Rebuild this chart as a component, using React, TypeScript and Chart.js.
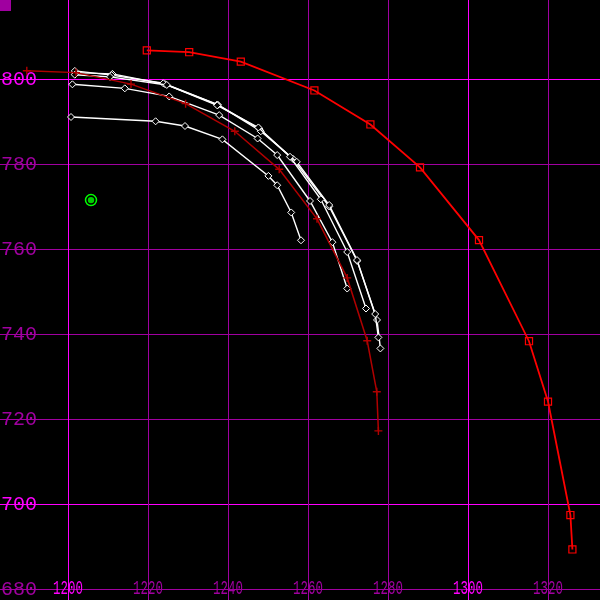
import React, { useEffect, useRef } from "react";
import { Chart, registerables } from "chart.js";

Chart.register(...registerables);

// Axis ticks
const xTicks = [1200, 1220, 1240, 1260, 1280, 1300, 1320];
const yTicks = [680, 700, 720, 740, 760, 780, 800, 820];

// Bright red series (squares)
const redX = [1219.7, 1230.3, 1243.2, 1261.6, 1275.6, 1288.0, 1302.75, 1315.25, 1320.0, 1325.6, 1326.1];
const redY = [806.75, 806.3, 804.1, 797.3, 789.3, 779.2, 762.1, 738.3, 724.1, 697.4, 689.3];

// Dark red series (crosses)
const darkX = [1189.7, 1202.0, 1215.75, 1229.4, 1241.7, 1252.8, 1262.25, 1269.8, 1274.8, 1277.2, 1277.6];
const darkY = [801.95, 801.5, 798.8, 794.2, 787.7, 778.75, 767.1, 753.2, 738.4, 726.4, 717.2];

// White series (diamonds)
const w1X = [1200.75, 1221.9, 1229.25, 1238.6, 1250.1, 1252.3, 1255.8, 1258.25];
const w1Y = [791.06, 790.05, 788.94, 785.8, 777.2, 775.0, 768.6, 762.05];

const w2X = [1201.1, 1214.2, 1225.3, 1237.8, 1247.4, 1252.3, 1260.5, 1266.1, 1269.8];
const w2Y = [798.75, 797.8, 795.9, 791.5, 786.0, 782.1, 771.3, 761.6, 750.7];

const w3X = [1201.7, 1210.5, 1224.7, 1237.3, 1247.6, 1255.5, 1263.2, 1269.8, 1274.5];
const w3Y = [801.0, 800.5, 798.6, 793.8, 788.6, 781.7, 771.7, 759.3, 746.0];

const w4X = [1201.7, 1210.9, 1223.8, 1237.3, 1248.2, 1257.2, 1265.3, 1272.25, 1276.8, 1277.6];
const w4Y = [801.9, 800.9, 799.0, 794.0, 787.7, 780.5, 770.35, 757.4, 744.7, 739.2];

const w5X = [1201.7, 1211.1, 1224.25, 1237.5, 1247.9, 1256.25, 1265.3, 1272.3, 1277.25, 1278.1];
const w5Y = [801.5, 801.2, 798.8, 793.9, 788.2, 781.2, 770.0, 757.2, 743.3, 736.6];

// Green marker
const greenX = [1205.75];
const greenY = [771.5];

const BRIGHT = "#ff00ff";
const PURPLE = "#a000a0";

const zip = (xs: number[], ys: number[]) => xs.map((x, i) => ({ x, y: ys[i] }));

const bgPlugin = {
  id: "bg",
  beforeDraw(chart: any) {
    const { ctx, width, height } = chart;
    ctx.save();
    ctx.fillStyle = "#000";
    ctx.fillRect(0, 0, width, height);
    ctx.restore();
  },
};

const gridLabelPlugin = {
  id: "gridLabels",
  beforeDatasetsDraw(chart: any) {
    const { ctx, width, height } = chart;
    const xs = chart.scales.x;
    const ys = chart.scales.y;
    ctx.save();
    ctx.lineWidth = 1;
    // horizontal grid
    yTicks.forEach((v) => {
      const py = Math.round(ys.getPixelForValue(v)) + 0.5;
      ctx.strokeStyle = v % 100 === 0 ? BRIGHT : PURPLE;
      ctx.beginPath();
      ctx.moveTo(0, py);
      ctx.lineTo(width, py);
      ctx.stroke();
    });
    // vertical grid
    xTicks.forEach((v) => {
      const px = Math.round(xs.getPixelForValue(v)) + 0.5;
      ctx.strokeStyle = v % 100 === 0 ? BRIGHT : PURPLE;
      ctx.beginPath();
      ctx.moveTo(px, 0);
      ctx.lineTo(px, height);
      ctx.stroke();
    });
    // labels
    ctx.font = "20px 'Liberation Mono'";
    ctx.textBaseline = "middle";
    yTicks.forEach((v) => {
      const py = ys.getPixelForValue(v);
      ctx.fillStyle = v % 100 === 0 ? BRIGHT : PURPLE;
      ctx.save();
      ctx.translate(1, py + 1);
      ctx.scale(1.0, 1);
      ctx.textAlign = "left";
      ctx.fillText(String(v), 0, 0);
      ctx.restore();
    });
    const by = ys.getPixelForValue(680);
    xTicks.forEach((v) => {
      const px = xs.getPixelForValue(v);
      ctx.fillStyle = v % 100 === 0 ? BRIGHT : PURPLE;
      ctx.save();
      ctx.translate(px, by);
      ctx.scale(0.62, 1);
      ctx.textAlign = "center";
      ctx.fillText(String(v), 0, 0);
      ctx.restore();
    });
    ctx.fillStyle = PURPLE;
    ctx.fillRect(0, 0, 11, 11);
    ctx.restore();
  },
};

export default function App() {
  const ref = useRef<HTMLCanvasElement | null>(null);

  useEffect(() => {
    if (!ref.current) return;
    const whiteDs = (data: { x: number; y: number }[]) => ({
      data,
      showLine: true,
      borderColor: "#ffffff",
      borderWidth: 1.4,
      pointStyle: "rectRot",
      pointRadius: 3.5,
      pointBorderWidth: 1,
      pointBorderColor: "#ffffff",
      pointBackgroundColor: "#000000",
      order: 3,
    });
    const chart = new Chart(ref.current, {
      type: "scatter",
      data: {
        datasets: [
          {
            data: zip(redX, redY),
            showLine: true,
            borderColor: "#ff0000",
            borderWidth: 1.8,
            pointStyle: "rect",
            pointRadius: 5,
            pointBorderWidth: 1.2,
            pointBorderColor: "#ff0000",
            pointBackgroundColor: "rgba(0,0,0,0)",
            order: 1,
          },
          {
            data: zip(darkX, darkY),
            showLine: true,
            borderColor: "#b00000",
            borderWidth: 1.5,
            pointStyle: "cross",
            pointRadius: 4,
            pointBorderWidth: 1.4,
            pointBorderColor: "#b00000",
            order: 2,
          },
          whiteDs(zip(w1X, w1Y)),
          whiteDs(zip(w2X, w2Y)),
          whiteDs(zip(w3X, w3Y)),
          whiteDs(zip(w4X, w4Y)),
          whiteDs(zip(w5X, w5Y)),
          {
            data: zip(greenX, greenY),
            showLine: false,
            pointStyle: "circle",
            pointRadius: 5.5,
            pointBorderWidth: 1.5,
            pointBorderColor: "#00ff00",
            pointBackgroundColor: "#000000",
            order: 0,
          },
          {
            data: zip(greenX, greenY),
            showLine: false,
            pointStyle: "circle",
            pointRadius: 3.2,
            pointBorderWidth: 0,
            pointBackgroundColor: "#00d000",
            order: -1,
          },
        ] as any,
      },
      options: {
        animation: false,
        responsive: false,
        devicePixelRatio: 1,
        layout: { padding: 0, autoPadding: false },
        plugins: {
          legend: { display: false },
          tooltip: { enabled: false },
        },
        events: [],
        scales: {
          x: {
            type: "linear",
            display: false,
            min: 1183,
            max: 1333,
          },
          y: {
            type: "linear",
            display: false,
            min: 677.412,
            max: 818.588,
          },
        },
      } as any,
      plugins: [bgPlugin, gridLabelPlugin],
    });
    return () => chart.destroy();
  }, []);

  return (
    <div style={{ position: "fixed", left: 0, top: 0, width: 600, height: 600, background: "#000" }}>
      <canvas ref={ref} width={600} height={600} style={{ display: "block", width: 600, height: 600 }} />
    </div>
  );
}
